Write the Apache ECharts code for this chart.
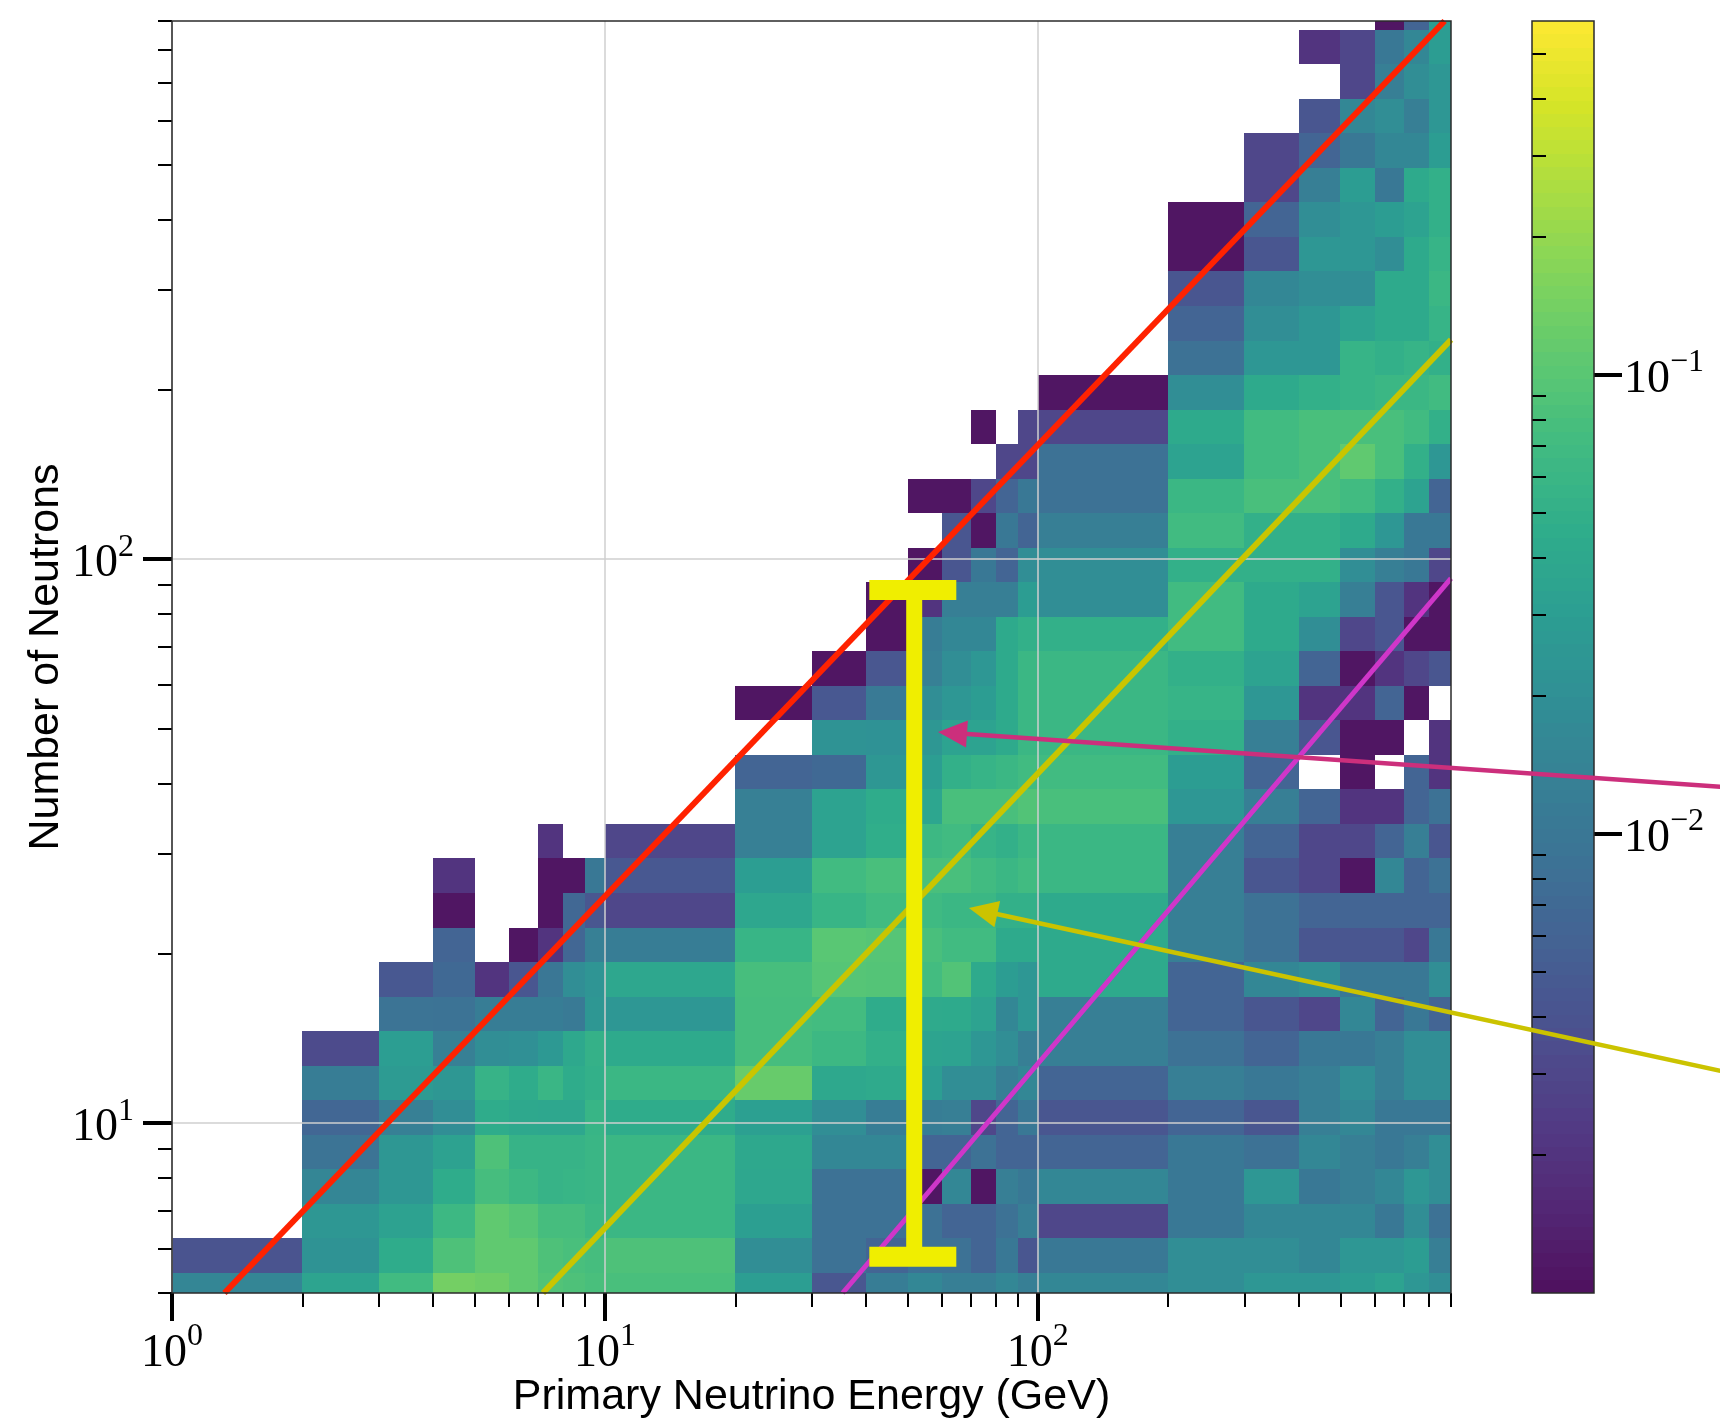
<!DOCTYPE html>
<html>
<head>
<meta charset="utf-8">
<script src="https://cdn.jsdelivr.net/npm/echarts@6/dist/echarts.min.js"></script>
<style>
  html, body { margin: 0; padding: 0; background: #ffffff; }
  #chart { width: 1720px; height: 1421px; }
</style>
</head>
<body>
<div id="chart"></div>
<script>
const _ = null;

// Primary neutrino energy bin edges (GeV)
const energyEdges = [1, 2, 3, 4, 5, 6, 7, 8, 9, 10, 20, 30, 40, 50, 60, 70, 80, 90,
  100, 200, 300, 400, 500, 600, 700, 800, 900];

// Neutron multiplicity bin edges (log-spaced bins, lowest one only partly shown)
const neutronEdges = [4.715, 5.429, 6.251, 7.197, 8.287, 9.541, 10.985, 12.648, 14.563,
  16.768, 19.307, 22.230, 25.595, 29.471, 33.932, 39.070, 44.984, 51.795, 59.636, 68.665,
  79.060, 91.029, 104.81, 120.68, 138.95, 159.99, 184.21, 212.10, 244.21, 281.19, 323.75,
  372.76, 429.19, 494.17, 568.99, 655.13, 754.31, 868.51, 1000];

// Fraction of events per bin: one row per neutron bin (bottom to top),
// one entry per energy bin (left to right); empty bins are null.
const fractionRows = [
  [0.015,0.035,0.07,0.14,0.13,0.11,0.09,0.085,0.08, 0.08,0.03,0.0043,0.012,0.016,0.0125,0.0125,0.016,0.0125, 0.016,0.019,0.024,0.024,0.029,0.034,0.024,0.019],
  [0.004,0.022,0.045,0.085,0.11,0.11,0.085,0.08,0.075, 0.085,0.019,0.0085,0.0062,0.0085,0.0085,0.0062,0.0105,0.0042, 0.0105,0.019,0.019,0.016,0.024,0.024,0.029,0.0125],
  [_,0.025,0.033,0.065,0.11,0.095,0.075,0.075,0.065, 0.062,0.031,0.0085,0.0085,0.0085,0.0062,0.0062,0.0085,0.0125, 0.003,0.0105,0.016,0.016,0.016,0.0105,0.019,0.0085],
  [_,0.015,0.025,0.045,0.075,0.065,0.055,0.058,0.06, 0.062,0.038,0.0085,0.0085,0.0011,0.016,0.0011,0.0125,0.0105, 0.016,0.0105,0.024,0.0105,0.0125,0.016,0.024,0.019],
  [_,0.009,0.025,0.033,0.085,0.055,0.055,0.055,0.06, 0.062,0.04,0.016,0.016,0.0062,0.0062,0.0085,0.0062,0.0062, 0.0062,0.0105,0.0085,0.016,0.0125,0.0105,0.0125,0.019],
  [_,0.0065,0.013,0.019,0.045,0.04,0.038,0.038,0.058, 0.045,0.032,0.019,0.012,0.012,0.0125,0.003,0.0062,0.0105, 0.0042,0.0062,0.0042,0.0125,0.016,0.0105,0.0105,0.0105],
  [_,0.012,0.028,0.025,0.055,0.045,0.06,0.045,0.05, 0.062,0.12,0.04,0.043,0.03,0.019,0.019,0.0125,0.016, 0.0062,0.0125,0.0105,0.0125,0.019,0.0125,0.019,0.019],
  [_,0.0033,0.03,0.013,0.019,0.02,0.026,0.04,0.052, 0.042,0.075,0.065,0.05,0.035,0.034,0.024,0.019,0.0125, 0.0125,0.0085,0.0062,0.0105,0.0105,0.0125,0.019,0.019],
  [_,_,0.009,0.0088,0.012,0.012,0.012,0.011,0.025, 0.024,0.075,0.072,0.045,0.043,0.042,0.034,0.016,0.024, 0.0125,0.0062,0.0042,0.003,0.016,0.0062,0.0105,0.0062],
  [_,_,0.0045,0.007,0.002,0.0042,0.01,0.019,0.023, 0.038,0.077,0.095,0.092,0.072,0.09,0.042,0.029,0.024, 0.042,0.0062,0.016,0.019,0.0105,0.0105,0.0105,0.019],
  [_,_,_,0.0062,_,0.0011,0.002,0.0065,0.013, 0.012,0.058,0.1,0.095,0.08,0.07,0.07,0.042,0.042, 0.042,0.0125,0.0085,0.0042,0.0042,0.0042,0.003,0.0105],
  [_,_,_,0.0011,_,_,0.0011,0.0068,0.0043, 0.003,0.038,0.058,0.07,0.068,0.062,0.062,0.05,0.05, 0.042,0.0125,0.0085,0.0062,0.0062,0.0062,0.0062,0.0062],
  [_,_,_,0.002,_,_,0.0011,0.0011,0.0105, 0.0045,0.03,0.07,0.08,0.08,0.08,0.07,0.062,0.07, 0.062,0.0125,0.0042,0.003,0.0011,0.016,0.0062,0.0085],
  [_,_,_,_,_,_,0.002,_,_, 0.003,0.013,0.034,0.047,0.065,0.07,0.056,0.05,0.062, 0.062,0.0125,0.0062,0.003,0.003,0.0062,0.0125,0.0042],
  [_,_,_,_,_,_,_,_,_, _,0.013,0.034,0.045,0.037,0.08,0.08,0.08,0.09, 0.08,0.024,0.0125,0.0062,0.002,0.002,0.0062,0.0085],
  [_,_,_,_,_,_,_,_,_, _,0.0062,0.007,0.025,0.03,0.05,0.056,0.062,0.07, 0.07,0.029,0.0062,_,0.0011,_,0.0062,0.002],
  [_,_,_,_,_,_,_,_,_, _,_,0.022,0.021,0.025,0.034,0.034,0.042,0.062, 0.062,0.05,0.0125,0.0042,0.0011,0.0011,_,0.002],
  [_,_,_,_,_,_,_,_,_, _,0.0011,0.0045,0.011,0.019,0.024,0.029,0.042,0.062, 0.062,0.056,0.024,0.002,0.002,0.0062,0.0011,_],
  [_,_,_,_,_,_,_,_,_, _,_,0.0011,0.0043,0.013,0.019,0.024,0.042,0.062, 0.062,0.05,0.034,0.0062,0.0011,0.002,0.003,0.0042],
  [_,_,_,_,_,_,_,_,_, _,_,_,0.0011,0.012,0.016,0.016,0.042,0.05, 0.05,0.07,0.042,0.019,0.003,0.0042,0.0011,0.0011],
  [_,_,_,_,_,_,_,_,_, _,_,_,0.0011,0.002,0.0125,0.0125,0.0125,0.029, 0.019,0.07,0.042,0.034,0.0125,0.0042,0.002,0.0011],
  [_,_,_,_,_,_,_,_,_, _,_,_,_,0.0011,0.0042,0.0105,0.0062,0.019, 0.019,0.05,0.05,0.05,0.019,0.0125,0.0105,0.003],
  [_,_,_,_,_,_,_,_,_, _,_,_,_,_,0.0042,0.0011,0.0105,0.0062, 0.0125,0.07,0.05,0.05,0.042,0.024,0.0105,0.0105],
  [_,_,_,_,_,_,_,_,_, _,_,_,_,0.0011,0.0011,0.003,0.0062,0.0105, 0.0085,0.062,0.08,0.08,0.07,0.05,0.034,0.0062],
  [_,_,_,_,_,_,_,_,_, _,_,_,_,_,_,_,0.003,0.003, 0.0085,0.034,0.07,0.08,0.11,0.08,0.05,0.024],
  [_,_,_,_,_,_,_,_,_, _,_,_,_,_,_,0.0011,_,0.003, 0.003,0.042,0.07,0.08,0.08,0.08,0.07,0.05],
  [_,_,_,_,_,_,_,_,_, _,_,_,_,_,_,_,_,_, 0.0011,0.019,0.042,0.05,0.056,0.062,0.062,0.07],
  [_,_,_,_,_,_,_,_,_, _,_,_,_,_,_,_,_,_, _,0.0085,0.024,0.024,0.056,0.05,0.056,0.05],
  [_,_,_,_,_,_,_,_,_, _,_,_,_,_,_,_,_,_, _,0.0062,0.019,0.024,0.034,0.042,0.042,0.056],
  [_,_,_,_,_,_,_,_,_, _,_,_,_,_,_,_,_,_, _,0.0042,0.016,0.019,0.019,0.042,0.042,0.062],
  [_,_,_,_,_,_,_,_,_, _,_,_,_,_,_,_,_,_, _,0.0011,0.0042,0.024,0.024,0.019,0.042,0.056],
  [_,_,_,_,_,_,_,_,_, _,_,_,_,_,_,_,_,_, _,0.0011,0.0062,0.019,0.024,0.029,0.034,0.05],
  [_,_,_,_,_,_,_,_,_, _,_,_,_,_,_,_,_,_, _,_,0.003,0.0125,0.029,0.0105,0.042,0.05],
  [_,_,_,_,_,_,_,_,_, _,_,_,_,_,_,_,_,_, _,_,0.003,0.0062,0.0105,0.016,0.016,0.029],
  [_,_,_,_,_,_,_,_,_, _,_,_,_,_,_,_,_,_, _,_,_,0.0042,0.016,0.019,0.0125,0.024],
  [_,_,_,_,_,_,_,_,_, _,_,_,_,_,_,_,_,_, _,_,_,_,0.003,0.0125,0.019,0.024],
  [_,_,_,_,_,_,_,_,_, _,_,_,_,_,_,_,_,_, _,_,_,0.002,0.003,0.0105,0.016,0.029],
  [_,_,_,_,_,_,_,_,_, _,_,_,_,_,_,_,_,_, _,_,_,_,_,0.0011,0.0062,0.029]
];

// Axis ranges and ticks
const energyRange = [1, 900];
const neutronRange = [5, 900];
const colorRange = [0.001, 0.59];
const energyTicksMajor = [1, 10, 100];
const energyTicksMinor = [2, 3, 4, 5, 6, 7, 8, 9, 20, 30, 40, 50, 60, 70, 80, 90,
  200, 300, 400, 500, 600, 700, 800, 900];
const neutronTicksMajor = [10, 100];
const neutronTicksMinor = [5, 6, 7, 8, 9, 20, 30, 40, 50, 60, 70, 80, 90,
  200, 300, 400, 500, 600, 700, 800, 900];
const colorTicksMajor = [0.01, 0.1];
const colorTicksMinor = [0.002, 0.003, 0.004, 0.005, 0.006, 0.007, 0.008, 0.009,
  0.02, 0.03, 0.04, 0.05, 0.06, 0.07, 0.08, 0.09, 0.2, 0.3, 0.4, 0.5];

// Reference trend lines (end points as [energy, neutrons])
const upperLine = [[1.3217, 5], [870, 900]];
const middleLine = [[7.19, 5], [900, 245]];
const lowerLine = [[35.4, 5], [900, 92.5]];

// Spread marker at ~52 GeV: [energy, low, high, capFrom, capTo]
const spreadMarker = [51.8, 5.8, 88.2, 40.8, 64.8];

// Annotation arrows: [tailEnergy, tailNeutrons, tipEnergy, tipNeutrons]
const arrowUpper = [3770, 39.5, 58.8, 49.4];
const arrowMiddle = [3770, 12.38, 69.3, 24.08];

const viridis = ['#440154', '#481a6c', '#472f7d', '#414487', '#39568c', '#31688e',
  '#2a788e', '#23888e', '#1f988b', '#22a884', '#35b779', '#54c568', '#7ad151',
  '#a5db36', '#d2e21b', '#fde725'];

const lg = Math.log10;

// Heatmap cells in log space: [x0, x1, y0, y1, log10(fraction)]
const cells = [];
fractionRows.forEach((row, r) => {
  row.forEach((v, c) => {
    if (v == null) return;
    cells.push([lg(energyEdges[c]), lg(energyEdges[c + 1]),
      lg(neutronEdges[r]), lg(neutronEdges[r + 1]), lg(v)]);
  });
});

// Colour bar bands
const bands = [];
const bandCount = 96;
const cbLo = lg(colorRange[0]), cbHi = lg(colorRange[1]);
for (let i = 0; i < bandCount; i++) {
  const a = cbLo + (cbHi - cbLo) * i / bandCount;
  const b = cbLo + (cbHi - cbLo) * (i + 1) / bandCount;
  bands.push([0, 1, a, b, (a + b) / 2]);
}

function cellRect(params, api) {
  const a = api.coord([api.value(0), api.value(2)]);
  const b = api.coord([api.value(1), api.value(3)]);
  const x0 = Math.round(Math.min(a[0], b[0])), x1 = Math.round(Math.max(a[0], b[0]));
  const y0 = Math.round(Math.min(a[1], b[1])), y1 = Math.round(Math.max(a[1], b[1]));
  return {
    type: 'rect',
    shape: { x: x0, y: y0, width: x1 - x0, height: y1 - y0 },
    style: { fill: api.visual('color'), opacity: 0.94 }
  };
}

function spreadShape(params, api) {
  const top = api.coord([api.value(0), api.value(2)]);
  const bot = api.coord([api.value(0), api.value(1)]);
  const tl = api.coord([api.value(3), api.value(2)]);
  const tr = api.coord([api.value(4), api.value(2)]);
  const bl = api.coord([api.value(3), api.value(1)]);
  const br = api.coord([api.value(4), api.value(1)]);
  const stroke = '#f0ee00';
  return {
    type: 'group',
    children: [
      { type: 'line', shape: { x1: top[0], y1: top[1], x2: bot[0], y2: bot[1] },
        style: { stroke, lineWidth: 16, lineCap: 'butt' } },
      { type: 'line', shape: { x1: tl[0], y1: tl[1], x2: tr[0], y2: tr[1] },
        style: { stroke, lineWidth: 20, lineCap: 'butt' } },
      { type: 'line', shape: { x1: bl[0], y1: bl[1], x2: br[0], y2: br[1] },
        style: { stroke, lineWidth: 20, lineCap: 'butt' } }
    ]
  };
}

function arrowShape(color) {
  return function (params, api) {
    const p0 = api.coord([lg(api.value(0)), lg(api.value(1))]);
    const p1 = api.coord([lg(api.value(2)), lg(api.value(3))]);
    const dx = p1[0] - p0[0], dy = p1[1] - p0[1];
    const len = Math.hypot(dx, dy);
    const ux = dx / len, uy = dy / len;
    const headLen = 29, half = 13.5;
    const bx = p1[0] - ux * headLen, by = p1[1] - uy * headLen;
    return {
      type: 'group',
      children: [
        { type: 'line', shape: { x1: p0[0], y1: p0[1], x2: bx + ux * 3, y2: by + uy * 3 },
          style: { stroke: color, lineWidth: 4.5 } },
        { type: 'polygon',
          shape: { points: [[p1[0], p1[1]], [bx - uy * half, by + ux * half], [bx + uy * half, by - ux * half]] },
          style: { fill: color } }
      ]
    };
  };
}

function powLabel(v) {
  const e = Math.round(v);
  return '{b|10}{s|' + (e < 0 ? '\u2212' + (-e) : e) + '}';
}
const richPow = {
  b: { fontFamily: 'Liberation Serif', fontSize: 46, lineHeight: 56, verticalAlign: 'bottom', color: '#000' },
  s: { fontFamily: 'Liberation Serif', fontSize: 32, lineHeight: 30, verticalAlign: 'top', color: '#000' }
};
const titleFont = { fontFamily: 'Liberation Sans', fontSize: 43, color: '#000' };

function minorAxis(gridIndex, min, max, position, ticks) {
  return {
    gridIndex, type: 'value', min, max, position, z: 3,
    axisLine: { show: false },
    axisTick: { show: true, customValues: ticks.map(lg), length: 14, lineStyle: { color: '#000', width: 2 } },
    axisLabel: { show: false },
    splitLine: { show: false }
  };
}

const chart = echarts.init(document.getElementById('chart'), null, { renderer: 'canvas' });

chart.setOption({
  animation: false,
  backgroundColor: '#ffffff',
  grid: [
    { left: 172, top: 21, width: 1279, height: 1272, show: true, backgroundColor: 'transparent',
      borderColor: '#2b2b2b', borderWidth: 1.5, z: 5, outerBoundsMode: 'none', containLabel: false },
    { left: 1532, top: 21, width: 62, height: 1272, show: true, backgroundColor: 'transparent',
      borderColor: '#2b2b2b', borderWidth: 1.5, z: 5, outerBoundsMode: 'none', containLabel: false }
  ],
  xAxis: [
    {
      gridIndex: 0, type: 'value', min: lg(energyRange[0]), max: lg(energyRange[1]), position: 'bottom', z: 3,
      axisLine: { show: false, onZero: false },
      axisTick: { show: true, customValues: energyTicksMajor.map(lg), length: 28, lineStyle: { color: '#000', width: 4 } },
      axisLabel: { show: true, customValues: energyTicksMajor.map(lg), formatter: powLabel, rich: richPow, margin: 28 },
      splitLine: { show: true, lineStyle: { color: '#cfcfcf', width: 1.5 } },
      name: 'Primary Neutrino Energy (GeV)', nameLocation: 'middle', nameGap: 83, nameMoveOverlap: false,
      nameTextStyle: titleFont
    },
    minorAxis(0, lg(energyRange[0]), lg(energyRange[1]), 'bottom', energyTicksMinor),
    { gridIndex: 1, type: 'value', min: 0, max: 1, show: false }
  ],
  yAxis: [
    {
      gridIndex: 0, type: 'value', min: lg(neutronRange[0]), max: lg(neutronRange[1]), position: 'left', z: 3,
      axisLine: { show: false, onZero: false },
      axisTick: { show: true, customValues: neutronTicksMajor.map(lg), length: 29, lineStyle: { color: '#000', width: 4 } },
      axisLabel: { show: true, customValues: neutronTicksMajor.map(lg), formatter: powLabel, rich: richPow, margin: 38 },
      splitLine: { show: true, lineStyle: { color: '#cfcfcf', width: 1.5 } },
      name: 'Number of Neutrons', nameLocation: 'middle', nameGap: 104, nameRotate: 90, nameMoveOverlap: false,
      nameTextStyle: titleFont
    },
    minorAxis(0, lg(neutronRange[0]), lg(neutronRange[1]), 'left', neutronTicksMinor),
    {
      gridIndex: 1, type: 'value', min: lg(colorRange[0]), max: lg(colorRange[1]), position: 'right', z: 3,
      axisLine: { show: false, onZero: false },
      axisTick: { show: true, customValues: colorTicksMajor.map(lg), length: 28, lineStyle: { color: '#000', width: 4 } },
      axisLabel: { show: true, customValues: colorTicksMajor.map(lg), formatter: powLabel, rich: richPow, margin: 30 },
      splitLine: { show: false }
    },
    minorAxis(1, lg(colorRange[0]), lg(colorRange[1]), 'right', colorTicksMinor)
  ],
  visualMap: [{
    type: 'continuous', show: false, seriesIndex: [0, 1], dimension: 4,
    min: lg(colorRange[0]), max: lg(colorRange[1]),
    inRange: { color: viridis }
  }],
  series: [
    {
      type: 'custom', name: 'fraction', coordinateSystem: 'cartesian2d', xAxisIndex: 0, yAxisIndex: 0,
      data: cells, encode: { x: [0, 1], y: [2, 3] }, renderItem: cellRect, clip: true, z: 2, silent: true
    },
    {
      type: 'custom', name: 'colour scale', coordinateSystem: 'cartesian2d', xAxisIndex: 2, yAxisIndex: 2,
      data: bands, encode: { x: [0, 1], y: [2, 3] }, renderItem: cellRect, clip: true, z: 2, silent: true
    },
    {
      type: 'line', name: 'upper', xAxisIndex: 0, yAxisIndex: 0, showSymbol: false, symbol: 'none', clip: true, z: 4,
      data: upperLine.map(p => [lg(p[0]), lg(p[1])]), lineStyle: { color: '#ff2200', width: 6 }, silent: true
    },
    {
      type: 'line', name: 'middle', xAxisIndex: 0, yAxisIndex: 0, showSymbol: false, symbol: 'none', clip: true, z: 4,
      data: middleLine.map(p => [lg(p[0]), lg(p[1])]), lineStyle: { color: '#c9c500', width: 6 }, silent: true
    },
    {
      type: 'line', name: 'lower', xAxisIndex: 0, yAxisIndex: 0, showSymbol: false, symbol: 'none', clip: true, z: 4,
      data: lowerLine.map(p => [lg(p[0]), lg(p[1])]), lineStyle: { color: '#cf36c9', width: 5 }, silent: true
    },
    {
      type: 'custom', name: 'spread', coordinateSystem: 'cartesian2d', xAxisIndex: 0, yAxisIndex: 0,
      data: [spreadMarker.map(lg)], encode: { x: [0, 3, 4], y: [1, 2] }, renderItem: spreadShape, clip: false, z: 6, silent: true
    },
    {
      type: 'custom', name: 'arrow upper', coordinateSystem: 'cartesian2d', xAxisIndex: 0, yAxisIndex: 0,
      data: [arrowUpper], encode: { x: [0, 2], y: [1, 3] }, renderItem: arrowShape('#cc2f7c'), clip: false, z: 7, silent: true
    },
    {
      type: 'custom', name: 'arrow middle', coordinateSystem: 'cartesian2d', xAxisIndex: 0, yAxisIndex: 0,
      data: [arrowMiddle], encode: { x: [0, 2], y: [1, 3] }, renderItem: arrowShape('#cbc300'), clip: false, z: 7, silent: true
    }
  ]
});
</script>
</body>
</html>
